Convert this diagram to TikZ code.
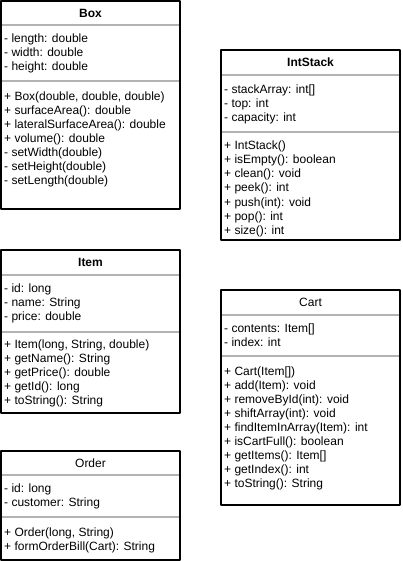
\documentclass[tikz,border=0pt]{standalone}
\usepackage{fontspec}
\setmainfont{Liberation Sans}
\newcommand{\Edge}{1.1pt}
\newcommand{\Rule}{1.4pt}
\newcommand{\Lead}{14}
\definecolor{ink}{HTML}{000000}
\definecolor{rulegrey}{HTML}{B3B3B3}

\tikzset{
  frame/.style={draw=ink, line width=\Edge},
  sep/.style={draw=rulegrey, line width=\Rule},
  title/.style={font=\fontsize{12}{14}\selectfont\bfseries, inner sep=0pt},
  plaintitle/.style={font=\fontsize{12}{14}\selectfont, inner sep=0pt},
  member/.style={font=\fontsize{12}{14}\selectfont, anchor=base west, inner sep=0pt},
}

\begin{document}
\begin{tikzpicture}[x=1pt, y=-1pt, line join=round]

  \useasboundingbox (0,0) rectangle (402,561);

  % ---- Box ----------------------------------------------------------------
  \draw[sep] (1,25) -- (180,25);
  \draw[sep] (1,81) -- (180,81);
  \draw[frame] (1,1) rectangle (180,209);
  \node[title] (box) at (90.5,13) {Box};
  \foreach \t [count=\i from 0] in {length: double, width: double, height: double}
    \node[member] (box-a\i) at (4,43+\i*\Lead) {- \t};
  \foreach \t [count=\i from 0] in {{+ Box(double, double, double)},
      + surfaceArea(): double, + lateralSurfaceArea(): double,
      + volume(): double, - setWidth(double), - setHeight(double),
      - setLength(double)}
    \node[member] (box-m\i) at (4,101+\i*\Lead) {\t};

  % ---- IntStack -----------------------------------------------------------
  \draw[sep] (221,75) -- (400,75);
  \draw[sep] (221,132) -- (400,132);
  \draw[frame] (221,50) rectangle (400,240);
  \node[title] (intstack) at (310.5,62) {IntStack};
  \foreach \t [count=\i from 0] in {stackArray: int[], top: int, capacity: int}
    \node[member] (stack-a\i) at (224,94+\i*\Lead) {- \t};
  \foreach \t [count=\i from 0] in {IntStack(), isEmpty(): boolean,
      clean(): void, peek(): int, push(int): void, pop(): int, size(): int}
    \node[member] (stack-m\i) at (224,150+\i*\Lead) {+ \t};

  % ---- Item ---------------------------------------------------------------
  \draw[sep] (1,275) -- (180,275);
  \draw[sep] (1,332) -- (180,332);
  \draw[frame] (1,250) rectangle (180,413);
  \node[title] (item) at (90.5,262) {Item};
  \foreach \t [count=\i from 0] in {id: long, name: String, price: double}
    \node[member] (item-a\i) at (4,292+\i*\Lead) {- \t};
  \foreach \t [count=\i from 0] in {{Item(long, String, double)},
      getName(): String, getPrice(): double, getId(): long,
      toString(): String}
    \node[member] (item-m\i) at (4,348+\i*\Lead) {+ \t};

  % ---- Cart ---------------------------------------------------------------
  \draw[sep] (221,315) -- (400,315);
  \draw[sep] (221,356) -- (400,356);
  \draw[frame] (221,290) rectangle (400,505);
  \node[plaintitle] (cart) at (310.5,302) {Cart};
  \foreach \t [count=\i from 0] in {contents: Item[], index: int}
    \node[member] (cart-a\i) at (224,332+\i*\Lead) {- \t};
  \foreach \t [count=\i from 0] in {Cart(Item[]), add(Item): void,
      removeById(int): void, shiftArray(int): void,
      findItemInArray(Item): int, isCartFull(): boolean,
      getItems(): Item[], getIndex(): int, toString(): String}
    \node[member] (cart-m\i) at (224,375+\i*\Lead) {+ \t};

  % ---- Order --------------------------------------------------------------
  \draw[sep] (1,475) -- (180,475);
  \draw[sep] (1,517) -- (180,517);
  \draw[frame] (1,451) rectangle (180,560);
  \node[plaintitle] (order) at (90.5,463) {Order};
  \foreach \t [count=\i from 0] in {id: long, customer: String}
    \node[member] (order-a\i) at (4,492+\i*\Lead) {- \t};
  \foreach \t [count=\i from 0] in {{Order(long, String)},
      formOrderBill(Cart): String}
    \node[member] (order-m\i) at (4,536+\i*\Lead) {+ \t};

\end{tikzpicture}
\end{document}
